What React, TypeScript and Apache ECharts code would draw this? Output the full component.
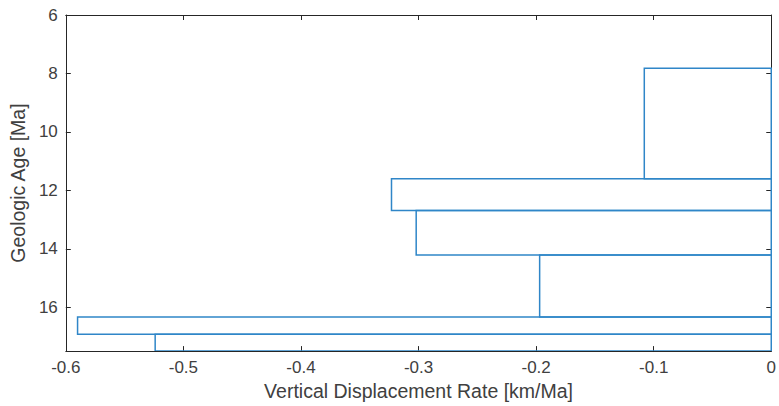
import React, { useEffect, useRef } from "react";
import * as echarts from "echarts";

const ageTop = [7.82, 11.6, 12.69, 14.21, 16.33, 16.92];
const ageBottom = [11.6, 12.69, 14.21, 16.33, 16.92, 17.5];
const rates = [-0.108, -0.323, -0.302, -0.197, -0.59, -0.524];
const xTicks = [-0.6, -0.5, -0.4, -0.3, -0.2, -0.1, 0];
const yTicks = [6, 8, 10, 12, 14, 16];
const yMax = 17.5;

const AXIS = "#262626";
const LABEL = "#404040";
const BAR = "#2f86c8";
const FONT = "'Liberation Sans', Arial, Helvetica, sans-serif";

export default function App() {
  const ref = useRef<HTMLDivElement>(null);
  useEffect(() => {
    if (!ref.current) return;
    const chart = echarts.init(ref.current, null, { renderer: "svg" });
    const data = rates.map((r, i) => [r, ageTop[i], ageBottom[i]]);
    const xBase = {
      type: "value" as const,
      min: xTicks[0],
      max: xTicks[xTicks.length - 1],
      interval: 0.1,
      splitLine: { show: false },
      axisLine: { show: true, onZero: false, lineStyle: { color: AXIS, width: 1 } },
      axisTick: { show: true, inside: true, length: 5, lineStyle: { color: AXIS }, customValues: xTicks },
    };
    const yBase = {
      type: "value" as const,
      inverse: true,
      min: yTicks[0],
      max: yMax,
      interval: 2,
      splitLine: { show: false },
      axisLine: { show: true, onZero: false, lineStyle: { color: AXIS, width: 1 } },
      axisTick: { show: true, inside: true, length: 5, lineStyle: { color: AXIS }, customValues: yTicks },
    };
    chart.setOption({
      animation: false,
      backgroundColor: "#ffffff",
      grid: { left: 65, right: 4, top: 15, bottom: 53, containLabel: false },
      xAxis: [
        {
          ...xBase,
          position: "bottom",
          name: "Vertical Displacement Rate [km/Ma]",
          nameLocation: "middle",
          nameGap: 22,
          nameTextStyle: { color: LABEL, fontSize: 19.5, fontFamily: FONT },
          axisLabel: {
            color: LABEL,
            fontSize: 17,
            fontFamily: FONT,
            margin: 8,
            customValues: xTicks,
            formatter: (v: number) => (Math.abs(v) < 1e-9 ? "0" : String(Math.round(v * 10) / 10)),
          },
        },
        { ...xBase, position: "top", axisLabel: { show: false } },
      ],
      yAxis: [
        {
          ...yBase,
          position: "left",
          name: "Geologic Age [Ma]",
          nameLocation: "middle",
          nameGap: 33,
          nameTextStyle: { color: LABEL, fontSize: 19.5, fontFamily: FONT },
          axisLabel: {
            color: LABEL,
            fontSize: 17,
            fontFamily: FONT,
            margin: 8,
            customValues: yTicks,
            formatter: (v: number) => (Number.isInteger(v) ? String(v) : ""),
          },
        },
        { ...yBase, position: "right", axisLabel: { show: false } },
      ],
      series: [
        {
          type: "custom",
          xAxisIndex: 0,
          yAxisIndex: 0,
          clip: true,
          data,
          encode: { x: 0, y: [1, 2] },
          renderItem: (params: any, api: any) => {
            const p1 = api.coord([api.value(0), api.value(1)]);
            const p2 = api.coord([0, api.value(2)]);
            return {
              type: "rect",
              shape: { x: p1[0], y: p1[1], width: p2[0] - p1[0], height: p2[1] - p1[1] },
              style: { fill: "none", stroke: BAR, lineWidth: 1.5 },
            };
          },
        },
      ],
    });
    return () => chart.dispose();
  }, []);
  return (
    <div
      ref={ref}
      style={{ position: "fixed", left: 0, top: 0, width: 779, height: 406, background: "#fff" }}
    />
  );
}
